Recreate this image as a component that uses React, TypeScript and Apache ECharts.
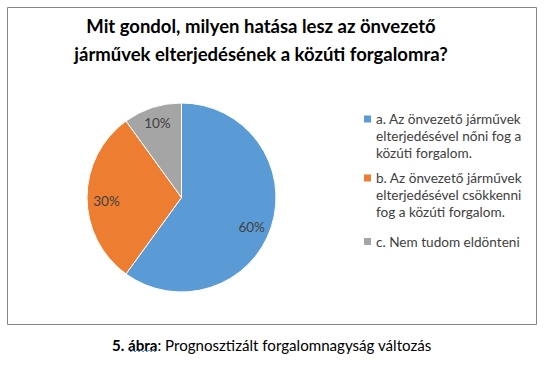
import React, { useEffect, useRef } from "react";
import * as echarts from "echarts";

const titleLines = [
  "Mit gondol, milyen hatása lesz az önvezető",
  "járművek elterjedésének a közúti forgalomra?",
];
const categories = [
  "a. Az önvezető járművek\nelterjedésével nőni fog a\nközúti forgalom.",
  "b. Az önvezető járművek\nelterjedésével csökkenni\nfog a közúti forgalom.",
  "c. Nem tudom eldönteni",
];
const values = [60, 30, 10];
const colors = ["#5B9BD5", "#ED7D31", "#A5A5A5"];
const captionBold = "5. ábra";
const captionRest = ": Prognosztizált forgalomnagyság változás";

const FONT = "Lato";

export default function App() {
  const ref = useRef<HTMLDivElement>(null);
  useEffect(() => {
    if (!ref.current) return;
    const chart = echarts.init(ref.current, null, { renderer: "svg" });
    const data = categories.map((name, i) => ({
      name,
      value: values[i],
      itemStyle: { color: colors[i] },
    }));
    const lh = 17;
    const firstLineCenters = [119, 178, 241.5];
    const legends = categories.map((name, i) => {
      const lines = name.split("\n").length;
      const h = lines * lh;
      const sqTop = lh / 2 - 3.5;
      const icon =
        lines > 1
          ? `path://M0,0M0,${sqTop}L7,${sqTop}L7,${sqTop + 7}L0,${sqTop + 7}ZM7,${h}`
          : "rect";
      return {
        orient: "vertical",
        left: 364,
        top: firstLineCenters[i] - lh / 2,
        padding: 0,
        data: [name],
        icon,
        itemWidth: 7,
        itemHeight: lines > 1 ? h : 7,
        itemGap: 0,
        selectedMode: false,
        itemStyle: { borderWidth: 0 },
        textStyle: {
          fontFamily: FONT,
          fontSize: 13.6,
          color: "#404040",
          lineHeight: lh,
        },
      };
    });
    const sq: number[][] = [];
    for (let k = 0; k <= 14; k++) sq.push([129 + k * 2, k % 2 === 0 ? 350 : 352]);
    chart.setOption({
      animation: false,
      legend: legends,
      graphic: [
        {
          type: "rect",
          shape: { x: 7.5, y: 7.5, width: 529, height: 317 },
          style: { fill: "none", stroke: "#868686", lineWidth: 1 },
          silent: true,
        },
        {
          type: "text",
          x: 261,
          y: 12,
          style: {
            text: titleLines.join("\n"),
            align: "center",
            verticalAlign: "top",
            fontFamily: FONT,
            fontWeight: "bold",
            fontSize: 18.5,
            lineHeight: 28,
            fill: "#000000",
          },
        },
        {
          type: "text",
          x: 112,
          y: 345,
          style: {
            text: `{b|${captionBold}}{r|${captionRest}}`,
            verticalAlign: "middle",
            rich: {
              b: { fontFamily: FONT, fontSize: 15.1, fontWeight: "bold", fill: "#000" },
              r: { fontFamily: FONT, fontSize: 15.1, fill: "#000" },
            },
          },
        },
        {
          type: "polyline",
          shape: { points: sq },
          style: { stroke: "#4472C4", lineWidth: 0.8, fill: "none" },
          silent: true,
        },
      ],
      series: [
        {
          type: "pie",
          center: [181.5, 197.5],
          radius: 94.5,
          startAngle: 90,
          clockwise: true,
          data,
          label: { show: false },
          labelLine: { show: false },
          itemStyle: { borderColor: "#ffffff", borderWidth: 1 },
          emphasis: { disabled: true },
        },
        {
          type: "pie",
          center: [181.5, 197.5],
          radius: [0, 150],
          startAngle: 90,
          clockwise: true,
          silent: true,
          data: categories.map((name, i) => ({
            name,
            value: values[i],
            itemStyle: { color: "transparent" },
          })),
          label: {
            show: true,
            position: "inside",
            formatter: "{c}%",
            fontFamily: FONT,
            fontSize: 13.5,
            color: "#404040",
          },
          labelLayout: (p: any) =>
            p.dataIndex === 0 ? { dx: -4, dy: 5 } : p.dataIndex === 1 ? { dx: 3, dy: 3 } : {},
          labelLine: { show: false },
          emphasis: { disabled: true },
          legendHoverLink: false,
        },
      ],
    });
    return () => chart.dispose();
  }, []);
  return (
    <div
      ref={ref}
      style={{ position: "absolute", left: 0, top: 0, width: 545, height: 372 }}
    />
  );
}
